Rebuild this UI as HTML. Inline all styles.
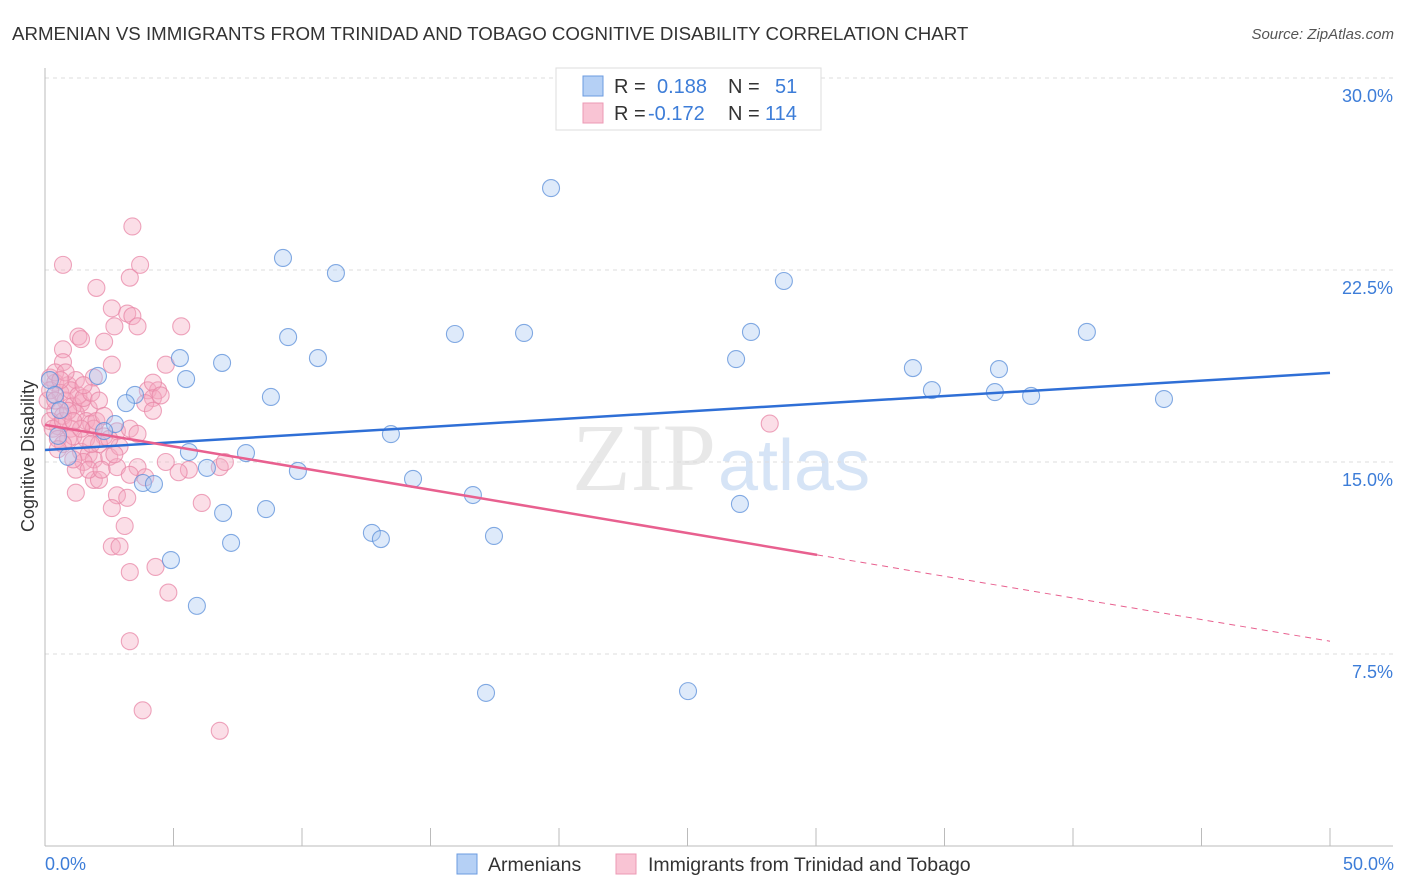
<!DOCTYPE html>
<html><head><meta charset="utf-8"><style>
body{margin:0;background:#fff;font-family:"Liberation Sans",sans-serif;}
svg{display:block}
</style></head><body>
<svg id="chart" width="1406" height="892">
<text x="12" y="40" font-size="18.7" fill="#333">ARMENIAN VS IMMIGRANTS FROM TRINIDAD AND TOBAGO COGNITIVE DISABILITY CORRELATION CHART</text>
<text x="1394" y="39" font-size="15" fill="#555" font-style="italic" text-anchor="end">Source: ZipAtlas.com</text>
<text x="716" y="490" font-size="96" fill="#e8e8e8" text-anchor="end" font-family="Liberation Serif">ZIP</text>
<text x="718" y="490" font-size="72" fill="#d6e4f6">atlas</text>
<g id="grid"></g>
<g id="axes"></g>
<g id="pts"></g>
<g id="lines"></g>
<text transform="translate(34,456) rotate(-90)" font-size="18" fill="#333" text-anchor="middle">Cognitive Disability</text>
<text x="45" y="870" font-size="18" fill="#3d7dd8">0.0%</text>
<text x="1394" y="870" font-size="18" fill="#3d7dd8" text-anchor="end">50.0%</text>
<g>
<rect x="556" y="68" width="265" height="62" fill="#fff" stroke="#ddd"/>
<rect x="583" y="76" width="20" height="20" fill="#b5d0f5" stroke="#6b9be0"/>
<rect x="583" y="103" width="20" height="20" fill="#f9c4d4" stroke="#ec9ab4"/>
<text x="614" y="93" font-size="20" fill="#333">R = <tspan fill="#3d7dd8" x="657">0.188</tspan><tspan x="728">N =</tspan><tspan fill="#3d7dd8" x="775">51</tspan></text>
<text x="614" y="120" font-size="20" fill="#333">R = <tspan fill="#3d7dd8" x="648">-0.172</tspan><tspan x="728">N =</tspan><tspan fill="#3d7dd8" x="765">114</tspan></text>
</g>
<g>
<rect x="457" y="854" width="20" height="20" fill="#b5d0f5" stroke="#6b9be0"/>
<text x="488" y="871" font-size="19.5" fill="#333">Armenians</text>
<rect x="616" y="854" width="20" height="20" fill="#f9c4d4" stroke="#ec9ab4"/>
<text x="648" y="871" font-size="19.5" fill="#333">Immigrants from Trinidad and Tobago</text>
</g>
</svg>
<script>
const yTicks=[7.5,15,22.5,30];
const yTickLabels=["7.5%","15.0%","22.5%","30.0%"];
const xTicks=[0,5,10,15,20,25,30,35,40,45,50];
const blueX=[19.69,9.26,11.32,28.75,9.46,15.95,18.64,27.47,40.54,5.25,6.89,10.62,26.89,33.77,37.12,5.49,2.06,3.5,3.15,8.79,34.51,36.96,38.37,43.54,13.46,0.51,2.72,2.3,7.82,5.6,0.89,6.3,9.84,14.32,3.81,4.24,16.65,27.04,6.93,8.6,12.72,13.07,17.47,7.24,4.9,5.91,17.16,25.02,0.19,0.39,0.58];
const blueY=[25.7,22.97,22.38,22.07,19.88,20,20.04,20.08,20.08,19.06,18.87,19.06,19.02,18.67,18.63,18.24,18.36,17.62,17.3,17.54,17.81,17.73,17.58,17.46,16.09,16.02,16.48,16.21,15.35,15.39,15.2,14.77,14.65,14.34,14.18,14.14,13.71,13.36,13.01,13.16,12.23,11.99,12.11,11.84,11.17,9.38,5.98,6.05,18.2,17.62,17.03];
const pinkX=[3.4,0.7,3.7,3.3,2.0,2.6,3.2,3.4,5.3,3.6,2.7,1.3,1.4,2.3,0.7,4.7,2.6,0.7,1.9,0.2,0.4,0.9,1.2,4.0,4.4,4.2,3.9,0.6,0.8,1.1,1.4,1.7,0.4,0.7,1.2,1.6,1.8,1.9,0.5,1.0,0.9,1.1,1.6,2.8,3.3,3.6,2.3,1.4,1.7,1.9,1.5,2.5,2.9,4.7,3.6,5.6,6.8,7.0,5.2,2.8,3.3,1.9,2.1,3.9,1.2,2.8,3.2,6.1,2.6,3.1,2.6,2.9,3.3,4.3,4.8,3.3,3.8,6.8,28.2,0.2,0.3,0.5,0.7,0.1,0.2,0.4,0.8,1.0,1.3,1.5,1.8,2.1,0.5,2.1,2.5,1.2,1.7,1.1,4.2,4.2,4.5,2.0,2.3,0.7,1.4,1.8,0.9,0.4,0.6,1.1,1.5,2.2,2.7];
const pinkY=[24.2,22.7,22.7,22.2,21.8,21.0,20.8,20.7,20.3,20.3,20.3,19.9,19.8,19.7,19.4,18.8,18.8,18.9,18.3,18.3,18.1,18.0,18.2,17.8,17.8,17.5,17.3,17.7,17.4,17.2,17.3,17.1,17.0,16.8,16.9,16.6,16.5,16.3,16.4,16.3,15.9,16.0,15.9,16.2,16.3,16.1,16.0,15.4,15.3,15.1,15.0,15.2,15.6,15.0,14.8,14.7,14.8,15.0,14.6,14.8,14.5,14.3,14.3,14.4,13.8,13.7,13.6,13.4,13.2,12.5,11.7,11.7,10.7,10.9,9.9,8.0,5.3,4.5,16.5,16.6,16.3,15.9,15.7,17.4,17.8,18.5,18.5,17.8,17.6,17.5,17.7,17.4,15.5,15.7,15.9,14.7,14.7,15.1,17.0,18.1,17.6,16.6,16.8,16.6,16.3,15.7,17.0,17.4,18.2,16.6,18.0,14.7,15.3];
const blueTrend=[15.47,18.48];
const pinkTrend=[16.45,8.0];
const pinkSolidEnd=30.04;
const NS="http://www.w3.org/2000/svg";
const sx=v=>45+v/50*1285;
const sy=v=>846-v/7.5*192;
function mk(tag,attrs,parent){const e=document.createElementNS(NS,tag);for(const k in attrs)e.setAttribute(k,attrs[k]);parent.appendChild(e);return e;}
const grid=document.getElementById('grid'),axes=document.getElementById('axes'),pts=document.getElementById('pts'),lines=document.getElementById('lines');
yTicks.forEach((t,i)=>{
 const l=mk('line',{x1:45,x2:1393,y1:sy(t),y2:sy(t),stroke:'#ddd','stroke-dasharray':'4,4'},grid);
 
 
 const tx=mk('text',{x:1393,y:sy(t)+24,'font-size':18,fill:'#3d7dd8','text-anchor':'end'},grid);
 tx.textContent=yTickLabels[i];
 
 
});
const ya=mk('line',{x1:45,x2:45,y1:68,y2:846,stroke:'#bbb'},axes);


const xa=mk('line',{x1:45,x2:1393,y1:846,y2:846,stroke:'#bbb'},axes);


xTicks.forEach(t=>{
 const l=mk('line',{x1:sx(t),x2:sx(t),y1:828,y2:846,stroke:'#bbb'},axes);
 
 
});
function dots(X,Y,fill,stroke,name){
 X.forEach((x,i)=>{
  const c=mk('circle',{cx:sx(x),cy:sy(Y[i]),r:8.5,fill:fill,'fill-opacity':0.38,stroke:stroke,'stroke-opacity':0.75,'stroke-width':1.1},pts);
  
  
 });
}
dots(pinkX,pinkY,'#f5a9c0','#e887a7','trinidad-point');
dots(blueX,blueY,'#a9c9f2','#5b8fd9','armenian-point');
const bl=mk('line',{x1:sx(0),y1:sy(blueTrend[0]),x2:sx(50),y2:sy(blueTrend[1]),stroke:'#2f6fd6','stroke-width':2.5},lines);


const pAt=x=>pinkTrend[0]+(pinkTrend[1]-pinkTrend[0])*x/50;
const pl=mk('line',{x1:sx(0),y1:sy(pAt(0)),x2:sx(pinkSolidEnd),y2:sy(pAt(pinkSolidEnd)),stroke:'#e8608f','stroke-width':2.5},lines);


const pd=mk('line',{x1:sx(pinkSolidEnd),y1:sy(pAt(pinkSolidEnd)),x2:sx(50),y2:sy(pAt(50)),stroke:'#e8608f','stroke-width':1,'stroke-dasharray':'6,5'},lines);


</script>
</body></html>
